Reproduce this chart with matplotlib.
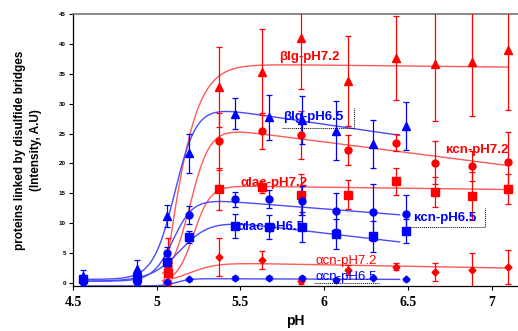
import numpy as np
import matplotlib.pyplot as plt

# pH values of the two series
ph72 = [5.07, 5.37, 5.63, 5.86, 6.14, 6.43, 6.66, 6.88, 7.10]
ph65 = [4.56, 4.88, 5.06, 5.19, 5.47, 5.67, 5.87, 6.07, 6.29, 6.49]

# pH 7.2 (red)
blg72 = [4.0, 32.8, 35.3, 41.0, 33.8, 37.6, 36.6, 36.9, 39.0]
blg72_err = [3.5, 6.7, 7.2, 8.5, 7.5, 7.0, 9.5, 9.0, 10.0]
kcn72 = [2.8, 23.7, 25.4, 24.7, 22.3, 23.5, 20.1, 19.6, 20.2]
kcn72_err = [1.0, 4.8, 3.0, 4.0, 2.5, 1.5, 3.6, 2.5, 5.0]
alac72 = [1.7, 15.7, 16.0, 14.8, 14.8, 17.0, 15.2, 14.5, 15.8]
alac72_err = [1.5, 3.5, 1.0, 3.5, 2.5, 2.3, 2.5, 4.0, 2.5]
acn72 = [0.0, 4.4, 3.8, 0.3, 2.2, 2.7, 1.9, 2.2, 2.7]
acn72_err = [0.3, 3.2, 1.5, 0.5, 0.8, 0.6, 1.5, 2.8, 2.8]

# pH 6.5 (blue)
blg65 = [1.2, 2.3, 11.2, 21.7, 28.3, 27.7, 27.3, 25.5, 23.2, 26.2]
blg65_err = [1.0, 1.5, 1.8, 3.3, 2.6, 3.7, 4.0, 5.0, 4.0, 4.0]
kcn65 = [0.3, 0.6, 5.0, 11.3, 14.0, 14.1, 13.8, 12.0, 11.8, 11.5]
kcn65_err = [0.5, 0.6, 1.0, 1.5, 1.3, 1.5, 2.5, 3.0, 4.7, 3.2]
alac65 = [0.6, 0.8, 3.5, 7.7, 9.5, 9.4, 9.3, 8.2, 7.8, 8.7]
alac65_err = [0.5, 0.5, 1.0, 1.0, 2.0, 2.0, 2.5, 2.5, 2.6, 2.0]
acn65 = [0.0, 0.0, 0.2, 0.6, 0.8, 0.8, 0.8, 0.5, 0.9, 0.6]
acn65_err = [0.2, 0.2, 0.2, 0.3, 0.3, 0.3, 0.3, 0.3, 0.3, 0.3]

# sigmoid fit parameters: lo, plateau, plateau slope, midpoint, width
fit_blg72 = [-30, 36.6, -0.3, 5.06, 0.09]
fit_kcn72 = [0, 25.4, -3.6, 5.20, 0.06]
fit_alac72 = [0, 16.2, -0.35, 5.22, 0.05]
fit_acn72 = [0, 3.3, -0.5, 5.20, 0.08]
fit_blg65 = [0.6, 28.6, -4.1, 5.11, 0.065]
fit_kcn65 = [0.3, 13.5, -2.2, 5.10, 0.06]
fit_alac65 = [0.3, 10.0, -3.3, 5.15, 0.09]
fit_acn65 = [-0.5, 0.7, -0.1, 5.12, 0.04]


def sigmoid(x, lo, a, s, x0, w):
    f = 1 / (1 + np.exp(-(x - x0) / w))
    return lo + (a + s * (x - 5.5) - lo) * f


RED = '#ff0000'
BLUE = '#0000ff'
RED_LINE = '#ff5a5a'
BLUE_LINE = '#4a4aff'

fig = plt.figure(figsize=(5.18, 3.31), dpi=100)
ax = fig.add_axes([73 / 518, 45 / 331, 445 / 518, 272 / 331])

xr = np.linspace(5.035, 7.10, 300)
xb = np.linspace(4.56, 6.45, 300)
for p in [fit_blg72, fit_kcn72, fit_alac72, fit_acn72]:
    ax.plot(xr, sigmoid(xr, *p), color=RED_LINE, lw=1.0, zorder=2)
for p in [fit_blg65, fit_kcn65, fit_alac65, fit_acn65]:
    ax.plot(xb, sigmoid(xb, *p), color=BLUE_LINE, lw=1.0, zorder=2)

red_sets = [(blg72, blg72_err, '^', 6), (kcn72, kcn72_err, 'o', 5),
            (alac72, alac72_err, 's', 5.5), (acn72, acn72_err, 'D', 3.5)]
blue_sets = [(blg65, blg65_err, '^', 6), (kcn65, kcn65_err, 'o', 5),
             (alac65, alac65_err, 's', 5.5), (acn65, acn65_err, 'D', 3.5)]
for y, e, m, ms in red_sets:
    ax.errorbar(ph72, y, yerr=e, fmt=m, ms=ms, color=RED, ecolor=RED,
                elinewidth=0.9, capsize=2, capthick=0.9, zorder=3)
for y, e, m, ms in blue_sets:
    ax.errorbar(ph65, y, yerr=e, fmt=m, ms=ms, color=BLUE, ecolor=BLUE,
                elinewidth=0.9, capsize=2, capthick=0.9, zorder=3)

# labels
lab = dict(fontsize=9.5, fontfamily='Liberation Sans', va='center', zorder=5)
ax.text(5.73, 37.8, 'βlg-pH7.2', color=RED, fontweight='bold', **lab)
ax.text(5.755, 27.7, 'βlg-pH6.5', color=BLUE, fontweight='bold', **lab)
ax.text(6.72, 22.2, 'κcn-pH7.2', color=RED, fontweight='bold', **lab)
ax.text(5.50, 16.8, 'αlac-pH7.2', color=RED, fontweight='bold', **lab)
ax.text(5.485, 9.3, 'αlac-pH6.5', color=BLUE, fontweight='bold', **lab)
ax.text(6.53, 10.8, 'κcn-pH6.5', color=BLUE, fontweight='bold', **lab)
ax.text(5.945, 3.7, 'αcn-pH7.2', color=RED, **lab)
ax.text(5.945, 1.0, 'αcn-pH6.5', color=BLUE, **lab)

# dotted callout lines
dot = dict(color='black', lw=0.7, ls=(0, (1, 1)), zorder=4)
ax.plot([5.75, 6.18, 6.18], [25.9, 25.9, 29.2], **dot)
ax.plot([6.51, 6.96, 6.96], [9.3, 9.3, 12.5], **dot)
ax.plot([5.94, 6.33], [0.0, 0.0], **dot)

ax.set_xlim(4.5, 7.157)
ax.set_ylim(-0.5, 45)
ax.set_xticks([4.5, 5, 5.5, 6, 6.5, 7])
ax.set_xticklabels(['4.5', '5', '5.5', '6', '6.5', '7'],
                   fontfamily='Liberation Serif', fontweight='bold', fontsize=10)
ax.set_yticks(range(0, 50, 5))
ax.set_yticklabels([str(v) for v in range(0, 50, 5)],
                   fontfamily='Liberation Sans', fontweight='bold', fontsize=4.5)
ax.tick_params(axis='both', length=3, width=0.8, pad=2)
ax.tick_params(axis='x', pad=4)

ax.spines['right'].set_visible(False)
ax.spines['top'].set_color('#777777')
ax.spines['top'].set_linewidth(1.2)
ax.spines['left'].set_linewidth(0.9)
ax.spines['bottom'].set_linewidth(0.9)

ax.set_xlabel('pH', fontfamily='Liberation Sans', fontweight='bold',
              fontsize=10, labelpad=4)
ax.set_ylabel('proteins linked by disulfide bridges\n(Intensity, A.U)',
              fontfamily='Liberation Sans', fontweight='bold', fontsize=8.5,
              linespacing=1.5, labelpad=12)

fig.savefig('out.png', dpi=100)
